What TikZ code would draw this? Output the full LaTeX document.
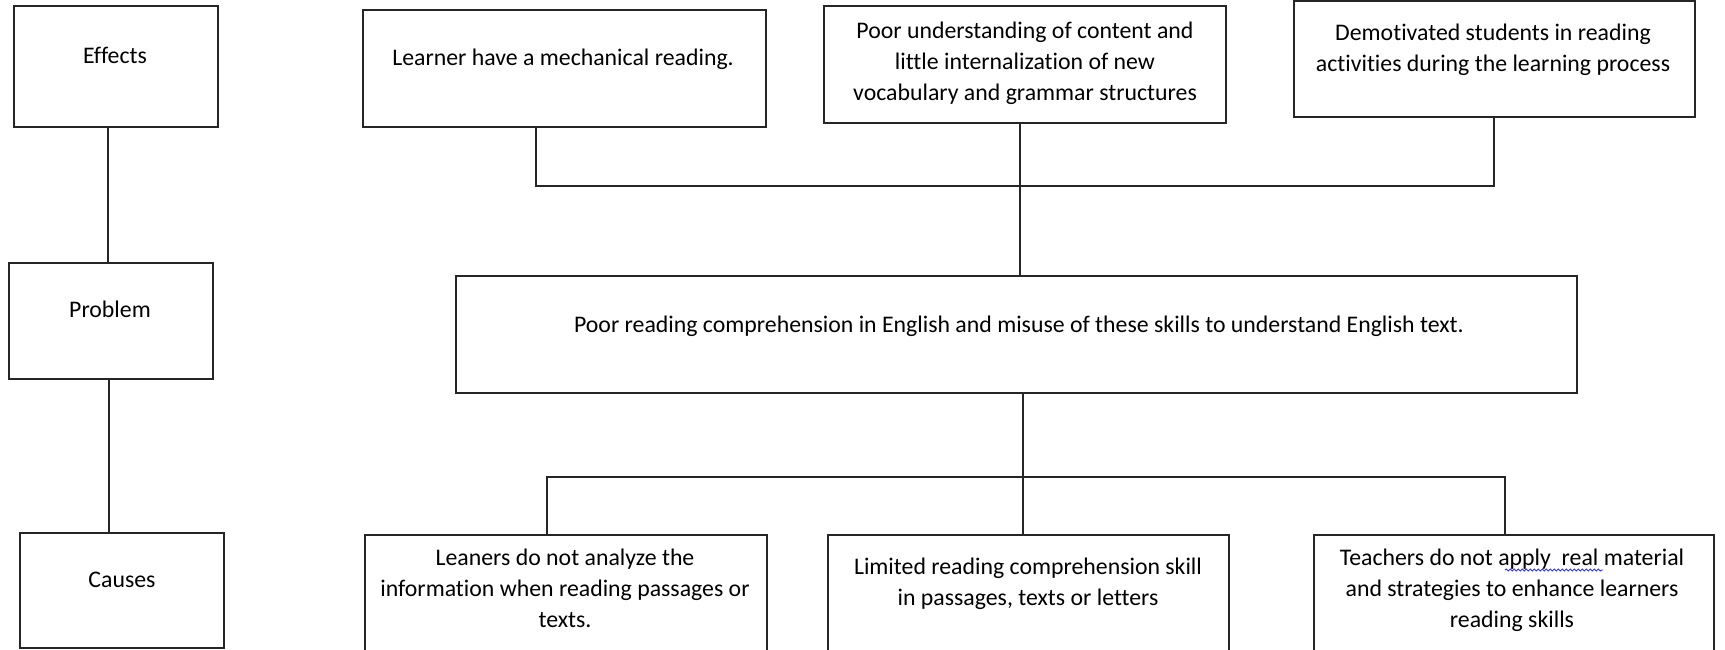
\documentclass[tikz,border=0pt]{standalone}
\usepackage{fontspec}
\setmainfont{Carlito}[Ligatures=NoCommon]
\usetikzlibrary{fit,decorations.pathmorphing}

\tikzset{
  box/.style={draw=black!85, line width=0.7pt, inner sep=0pt, fill=none},
  % base anchor of a multi-line node sits on its last line
  txt/.style={inner sep=0pt, anchor=base, align=center,
              font=\fontsize{11.9pt}{15.3pt}\selectfont},
  link/.style={draw=black!85, line width=0.7pt},
}

\begin{document}
\begin{tikzpicture}[x=0.5pt, y=-0.5pt]
  % canvas
  \fill[white] (0,0) rectangle (1725,649);
  \useasboundingbox (0,0) rectangle (1725,649);
  \clip (0,0) rectangle (1725,649);

  % row labels
  \node[box, fit={(14,6) (218,127)}]   (effects) {};
  \node[box, fit={(9,263) (213,379)}]  (problemlbl) {};
  \node[box, fit={(20,533) (224,648)}] (causes) {};
  \node[txt] (effects-t)    at (115,63)  {Effects};
  \node[txt] (problemlbl-t) at (110,317) {Problem};
  \node[txt] (causes-t)     at (122,587) {Causes};

  % effects
  \node[box, fit={(363,10) (766,127)}]   (learner) {};
  \node[box, fit={(824,6) (1226,123)}]   (understanding) {};
  \node[box, fit={(1294,1) (1695,117)}]  (demotivated) {};
  \node[txt] (learner-t) at (563,65) {Learner have a mechanical reading.};
  \node[txt] (understanding-t) at (1025,100)
    {Poor understanding of content and\\little internalization of new\\vocabulary and grammar structures};
  \node[txt] (demotivated-t) at (1493,71)
    {Demotivated students in reading\\activities during the learning process};

  % problem
  \node[box, fit={(456,276) (1577,393)}] (problem) {};
  \node[txt] (problem-t) at (1019,332)
    {Poor reading comprehension in English and misuse of these skills to understand English text.};

  % causes
  \node[box, fit={(365,535) (767,662)}]   (leftcause) {};
  \node[box, fit={(828,535) (1229,662)}]  (midcause) {};
  \node[box, fit={(1314,535) (1714,662)}] (rightcause) {};
  \node[txt] (leftcause-t) at (565,627)
    {Leaners do not analyze the\\information when reading passages or\\texts.};
  \node[txt] (midcause-t) at (1028,605)
    {Limited reading comprehension skill\\in passages, texts or letters};
  \node[txt] (rightcause-t) at (1512,627)
    {Teachers do not apply\ \ real material\\and strategies to enhance learners\\reading skills};
  % spell-check underline
  \draw[blue!80, line width=0.45pt, decorate,
        decoration={snake, amplitude=0.5pt, segment length=2pt}]
    (1505,570) -- (1603,570);

  % connector anchors
  \coordinate (colA) at (108,0);
  \coordinate (colB) at (109,0);
  \coordinate (busTL) at (536,186);
  \coordinate (busTR) at (1494,186);
  \coordinate (midT) at (1020,0);
  \coordinate (busBL) at (547,477);
  \coordinate (busBR) at (1505,477);
  \coordinate (midB) at (1023,0);

  % left column
  \draw[link] (effects.south -| colA) -- (problemlbl.north -| colA);
  \draw[link] (problemlbl.south -| colB) -- (causes.north -| colB);

  % effects to problem
  \draw[link] (learner.south -| busTL) -- (busTL) -- (busTR) -- (demotivated.south -| busTR);
  \draw[link] (understanding.south -| midT) -- (problem.north -| midT);

  % problem to causes
  \draw[link] (problem.south -| midB) -- (midcause.north -| midB);
  \draw[link] (leftcause.north -| busBL) -- (busBL) -- (busBR) -- (rightcause.north -| busBR);
\end{tikzpicture}
\end{document}
